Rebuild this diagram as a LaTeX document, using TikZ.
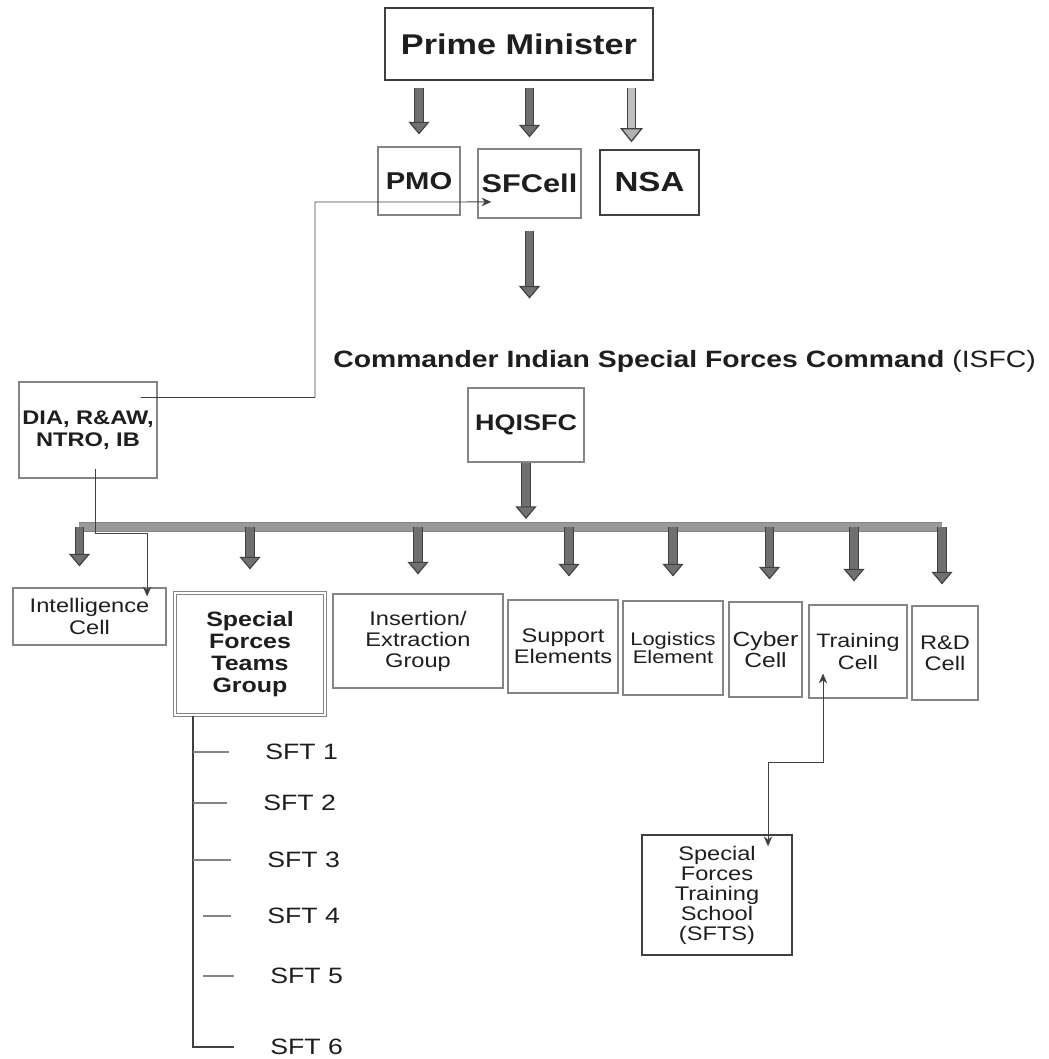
\documentclass[tikz,border=0pt]{standalone}
\usepackage{fontspec}
\setmainfont{Liberation Sans}[FakeStretch=1.2]
\usepackage{tikz}
\usetikzlibrary{arrows.meta, positioning, calc}
\definecolor{boxGray}{HTML}{858585}
\definecolor{arrowGray}{HTML}{707070}
\definecolor{edgeGray}{HTML}{404040}
\definecolor{inkBlack}{HTML}{1E1E1E}

\begin{document}
\begin{tikzpicture}[
    x=0.025cm, y=-0.025cm,
    cell/.style={rectangle, draw=boxGray, line width=0.8pt, align=center, inner sep=1pt,
                 text=inkBlack, font=\fontsize{14}{15}\selectfont},
    head/.style={rectangle, draw=edgeGray, line width=1pt, align=center, inner sep=1pt,
                 text=inkBlack},
    fatarrow/.style={draw=edgeGray, line width=0.8pt, double=arrowGray, double distance=5pt,
                     -{Triangle[length=9pt, width=15pt, fill=arrowGray]}},
    hollowarrow/.style={draw=edgeGray, line width=0.9pt, double=black!25, double distance=5pt,
                        -{Triangle[length=10pt, width=16pt, fill=black!30]}},
    bus/.style={draw=boxGray, line width=0.8pt, double=black!40, double distance=6pt},
    thinarrow/.style={-{Stealth[length=7pt, width=6pt]}, line width=0.6pt, draw=edgeGray},
    spine/.style={line width=1.4pt, draw=edgeGray},
    tick/.style={line width=1.2pt, draw=boxGray},
    sftlabel/.style={anchor=west, inner sep=0pt, text=inkBlack, font=\fontsize{15.8}{18}\selectfont},
]
\useasboundingbox (0,0) rectangle (1049,1059);

% top of the chain
\node[head, minimum width=6.7cm, minimum height=1.8cm, font=\fontsize{20.3}{24}\selectfont\bfseries] (pm) at (519,44) {Prime Minister};
\node[cell, minimum width=2.05cm, minimum height=1.7cm, font=\fontsize{17.3}{20}\selectfont\bfseries] (pmo) at (419,181) {PMO};
\node[cell, minimum width=2.575cm, minimum height=1.725cm, font=\fontsize{18.2}{20}\selectfont\bfseries] (sfcell) at (529.5,183.5) {SFCell};
\node[head, minimum width=2.475cm, minimum height=1.625cm, font=\fontsize{19.6}{22}\selectfont\bfseries] (nsa) at (649.5,182.5) {NSA};

\draw[fatarrow] ([yshift=-0.175cm]pm.south -| pmo.north) -- ([yshift=0.3cm]pmo.north);
\draw[fatarrow] ([yshift=-0.175cm]pm.south -| sfcell.north) -- ([yshift=0.275cm]sfcell.north);
\draw[hollowarrow] ([xshift=-0.45cm, yshift=-0.175cm]pm.south -| nsa.north) -- ([xshift=-0.45cm, yshift=0.175cm]nsa.north);

% command level
\node[anchor=base west, inner sep=0pt, text=inkBlack, font=\fontsize{16.8}{20}\selectfont] (cmd) at (333,367)
    {{\bfseries Commander Indian Special Forces Command} (ISFC)};
\draw[fatarrow] ([yshift=-0.3cm]sfcell.south) -- ++(0,68);

\node[cell, minimum width=3.45cm, minimum height=2.4cm, font=\fontsize{14}{15.6}\selectfont\bfseries] (dia) at (88,430) {DIA, R\&AW,\\NTRO, IB};
\node[head, draw=boxGray, line width=0.8pt, minimum width=2.9cm, minimum height=1.85cm, font=\fontsize{16}{18}\selectfont\bfseries] (hq) at (526,425) {HQISFC};

\coordinate (jog) at (315,202);
\draw[thinarrow] ([xshift=-0.425cm, yshift=-0.4cm]dia.north east) -| (jog) -- ([xshift=0.35cm, yshift=-0.46cm]sfcell.west);

% branches under HQISFC
\node[cell, minimum width=3.825cm, minimum height=1.425cm] (intel) at (89.5,616.5) {Intelligence\\Cell};
\node[cell, double, double distance=1.5pt, minimum width=3.75cm, minimum height=3.05cm, font=\fontsize{14.8}{15.6}\selectfont\bfseries] (sftg) at (250,654) {Special\\Forces\\Teams\\Group};
\node[cell, minimum width=4.25cm, minimum height=2.35cm] (insert) at (418,641) {Insertion/\\Extraction\\Group};
\node[cell, minimum width=2.75cm, minimum height=2.325cm] (support) at (563,646.5) {Support\\Elements};
\node[cell, minimum width=2.5cm, minimum height=2.35cm, font=\fontsize{13}{12.8}\selectfont] (logis) at (673,648) {Logistics\\Element};
\node[cell, minimum width=1.825cm, minimum height=2.375cm, font=\fontsize{14.6}{15}\selectfont] (cyber) at (765.5,649.5) {Cyber\\Cell};
\node[cell, minimum width=2.45cm, minimum height=2.325cm, font=\fontsize{13.8}{15.6}\selectfont] (train) at (858,651.5) {Training\\Cell};
\node[cell, minimum width=1.65cm, minimum height=2.35cm] (rd) at (945,653) {R\&D\\Cell};

\coordinate (bus) at (526,527);
\draw[bus] ([xshift=-0.25cm]intel.north |- bus) -- ([xshift=-0.075cm]rd.north |- bus);
\draw[fatarrow] (hq.south) -- ([yshift=0.2cm]hq.south |- bus);

\draw[fatarrow] ([xshift=-0.25cm]intel.north |- bus) -- ([xshift=-0.25cm, yshift=0.525cm]intel.north);
\draw[fatarrow] (sftg.north |- bus) -- ([yshift=0.575cm]sftg.north);
\draw[fatarrow] (insert.north |- bus) -- ([yshift=0.475cm]insert.north);
\draw[fatarrow] ([xshift=0.15cm]support.north |- bus) -- ([xshift=0.15cm, yshift=0.575cm]support.north);
\draw[fatarrow] (logis.north |- bus) -- ([yshift=0.6cm]logis.north);
\draw[fatarrow] ([xshift=0.1cm]cyber.north |- bus) -- ([xshift=0.1cm, yshift=0.55cm]cyber.north);
\draw[fatarrow] ([xshift=-0.1cm]train.north |- bus) -- ([xshift=-0.1cm, yshift=0.575cm]train.north);
\draw[fatarrow] ([xshift=-0.075cm]rd.north |- bus) -- ([xshift=-0.075cm, yshift=0.525cm]rd.north);

\draw[thinarrow] ([xshift=0.175cm, yshift=0.25cm]dia.south) -- ++(0,65) -| ([xshift=1.44cm, yshift=-0.225cm]intel.north);

% training school
\node[cell, line width=1pt, draw=edgeGray, minimum width=3.75cm, minimum height=3cm, font=\fontsize{14}{14.2}\selectfont] (sfts) at (717,895) {Special\\Forces\\Training\\School\\(SFTS)};
\draw[thinarrow, {Stealth[length=7pt, width=6pt]}-{Stealth[length=7pt, width=6pt]}] ([xshift=-0.875cm, yshift=0.625cm]train.south) -- ++(0,89) -| ([xshift=1.275cm, yshift=-0.3cm]sfts.north);

% teams
\node[sftlabel] (sft1) at (265,752) {SFT 1};
\node[sftlabel] (sft2) at (263,803) {SFT 2};
\node[sftlabel] (sft3) at (267,860) {SFT 3};
\node[sftlabel] (sft4) at (267,916) {SFT 4};
\node[sftlabel] (sft5) at (270,976) {SFT 5};
\node[sftlabel] (sft6) at (270,1047) {SFT 6};

\coordinate (spine) at ([xshift=-1.425cm]sftg.south);
\draw[spine] (spine) |- ([xshift=-0.9cm]sft6.west);
\draw[tick] (spine |- sft1.west) -- ([xshift=-0.9cm]sft1.west);
\draw[tick] (spine |- sft2.west) -- ([xshift=-0.9cm]sft2.west);
\draw[tick] (spine |- sft3.west) -- ([xshift=-0.9cm]sft3.west);
\draw[tick] ([xshift=0.25cm]spine |- sft4.west) -- ([xshift=-0.9cm]sft4.west);
\draw[tick] ([xshift=0.25cm]spine |- sft5.west) -- ([xshift=-0.9cm]sft5.west);
\end{tikzpicture}
\end{document}
